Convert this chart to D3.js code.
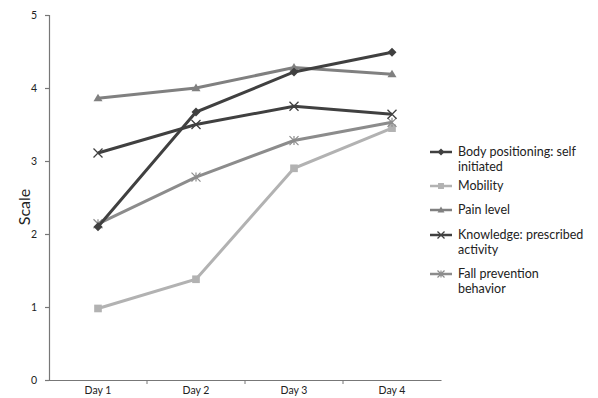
<!DOCTYPE html>
<html><head><meta charset="utf-8">
<script src="https://cdn.jsdelivr.net/npm/d3@7"></script>
<style>body{margin:0;background:#fff}svg{display:block}text{font-family:Lato,"Open Sans",sans-serif;fill:#222}</style>
</head><body><svg id="c" width="598" height="398"></svg>
<script>
const days = ["Day 1","Day 2","Day 3","Day 4"];
const yTicks = [0,1,2,3,4,5];
const seriesNames = ["Body positioning: self initiated","Mobility","Pain level","Knowledge: prescribed activity","Fall prevention behavior"];
const legendLines = [["Body positioning: self","initiated"],["Mobility"],["Pain level"],["Knowledge: prescribed","activity"],["Fall prevention","behavior"]];
const bodyPositioning = [2.1, 3.67, 4.22, 4.49];
const mobility = [0.98, 1.38, 2.9, 3.45];
const painLevel = [3.86, 4.0, 4.28, 4.19];
const knowledge = [3.11, 3.5, 3.75, 3.64];
const fallPrevention = [2.14, 2.78, 3.28, 3.53];
const seriesValues = [bodyPositioning, mobility, painLevel, knowledge, fallPrevention];
const colors = ["#404040","#b2b2b2","#808080","#404040","#8c8c8c"];
const markers = ["diamond","square","triangle","x","star"];

const svg = d3.select("#c");
const x = d3.scaleBand().domain(days).range([49,441]);
const y = d3.scaleLinear().domain([0,5]).range([380,15]);

const ya = svg.append("g").attr("transform","translate(49,0)").call(d3.axisLeft(y).tickValues(yTicks).tickSize(4).tickPadding(8).tickFormat(d3.format("d")));
const xa = svg.append("g").attr("transform","translate(0,380)").call(d3.axisBottom(x).tickSize(0).tickPadding(7));
[ya,xa].forEach(a=>{a.selectAll("path,line").attr("stroke","#777").attr("stroke-width",1.2);a.selectAll("text").attr("font-size",10.5).attr("fill","#222").attr("font-family","Lato, sans-serif");});
xa.selectAll(".sep").data(days.slice(1)).enter().append("line").attr("x1",d=>x(d)).attr("x2",d=>x(d)).attr("y1",0).attr("y2",4).attr("stroke","#777");

svg.append("text").attr("transform","translate(30,207) rotate(-90)").attr("text-anchor","middle").attr("font-size",16).text("Scale");

function drawMarker(g, type, cx, cy, col, s){
  if(type==="diamond") g.append("path").attr("d",`M${cx},${cy-s}L${cx+s},${cy}L${cx},${cy+s}L${cx-s},${cy}Z`).attr("fill",col);
  else if(type==="square") g.append("rect").attr("x",cx-s*0.85).attr("y",cy-s*0.85).attr("width",s*1.7).attr("height",s*1.7).attr("fill",col);
  else if(type==="triangle") g.append("path").attr("d",`M${cx},${cy-s}L${cx+s},${cy+s*0.7}L${cx-s},${cy+s*0.7}Z`).attr("fill",col);
  else if(type==="x") g.append("path").attr("d",`M${cx-s},${cy-s}L${cx+s},${cy+s}M${cx-s},${cy+s}L${cx+s},${cy-s}`).attr("stroke",col).attr("stroke-width",1.3);
  else if(type==="star") g.append("path").attr("d",`M${cx-s},${cy-s}L${cx+s},${cy+s}M${cx-s},${cy+s}L${cx+s},${cy-s}M${cx},${cy-s}L${cx},${cy+s}`).attr("stroke",col).attr("stroke-width",1.2);
}

const line = d3.line().x((d,i)=>x(days[i])+x.bandwidth()/2).y(d=>y(d));
const order = [1,4,2,3,0];
order.forEach(si=>{
  const g = svg.append("g");
  g.append("path").attr("d",line(seriesValues[si])).attr("fill","none").attr("stroke",colors[si]).attr("stroke-width",3);
  seriesValues[si].forEach((v,i)=>drawMarker(g,markers[si],x(days[i])+x.bandwidth()/2,y(v),colors[si],4.5));
});

const legY = [152,186,210,235,274];
seriesNames.forEach((n,i)=>{
  const g = svg.append("g");
  g.append("line").attr("x1",430).attr("x2",452).attr("y1",legY[i]).attr("y2",legY[i]).attr("stroke",colors[i]).attr("stroke-width",2.5);
  drawMarker(g,markers[i],441,legY[i],colors[i],3.5);
  legendLines[i].forEach((t,j)=>g.append("text").attr("x",458).attr("y",legY[i]+4+j*15).attr("font-size",12.5).text(t));
});
</script></body></html>
